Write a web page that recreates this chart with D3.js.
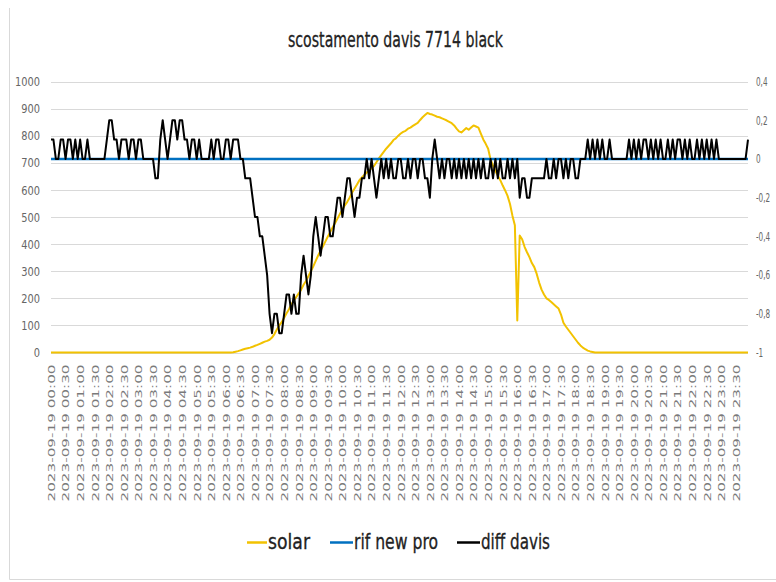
<!DOCTYPE html>
<html>
<head>
<meta charset="utf-8">
<script src="https://cdn.jsdelivr.net/npm/d3@7"></script>
<style>
  html, body { margin: 0; padding: 0; background: #fff; }
  svg { display: block; }
</style>
</head>
<body>
<svg id="chart" width="776" height="582"></svg>
<script>
// ---- Data (5-minute samples, 2023-09-19) ----
const title = 'scostamento davis 7714 black';

// solar (left axis)
const solar = [
  0,0,0,0,0,0,0,0,0,0,0,0,0,0,0,0,0,0,0,0,0,0,0,0,0,
  0,0,0,0,0,0,0,0,0,0,0,0,0,0,0,0,0,0,0,0,0,0,0,0,0,
  0,0,0,0,0,0,0,0,0,0,0,0,0,0,0,0,0,0,0,0,0,0,0,0,0,
  1,3,5,8,11,14,16,18,21,25,28,32,36,40,43,47,55,68,85,100,112,128,145,160,178,
  192,205,218,232,250,264,282,300,318,338,358,376,392,410,428,445,462,478,495,512,528,543,556,572,590,
  605,620,636,646,655,664,672,680,688,702,716,728,740,752,762,772,784,790,800,808,814,818,826,830,836,
  842,847,858,868,876,884,880,878,874,870,868,864,860,856,851,846,838,826,816,812,820,828,822,830,838,
  834,830,808,786,770,752,712,690,670,652,636,616,598,578,548,505,470,118,432,418,390,370,352,330,315,
  290,258,232,214,200,194,186,178,170,162,140,110,96,84,72,60,48,36,26,18,12,7,4,2,
  0,0,0,0,0,0,0,0,0,0,0,0,0,0,0,0,0,0,0,0,0,0,0,0,0,0,0,0,0,0,0,0,
  0,0,0,0,0,0,0,0,0,0,0,0,0,0,0,0,0,0,0,0,0,0,0,0,0,0,0,0,0,0,0,0
];

// rif new pro (right axis)
const rifNewPro = [
  0,0,0,0,0,0,0,0,0,0,0,0,0,0,0,0,0,0,0,0,0,0,0,0,
  0,0,0,0,0,0,0,0,0,0,0,0,0,0,0,0,0,0,0,0,0,0,0,0,
  0,0,0,0,0,0,0,0,0,0,0,0,0,0,0,0,0,0,0,0,0,0,0,0,
  0,0,0,0,0,0,0,0,0,0,0,0,0,0,0,0,0,0,0,0,0,0,0,0,
  0,0,0,0,0,0,0,0,0,0,0,0,0,0,0,0,0,0,0,0,0,0,0,0,
  0,0,0,0,0,0,0,0,0,0,0,0,0,0,0,0,0,0,0,0,0,0,0,0,
  0,0,0,0,0,0,0,0,0,0,0,0,0,0,0,0,0,0,0,0,0,0,0,0,
  0,0,0,0,0,0,0,0,0,0,0,0,0,0,0,0,0,0,0,0,0,0,0,0,
  0,0,0,0,0,0,0,0,0,0,0,0,0,0,0,0,0,0,0,0,0,0,0,0,
  0,0,0,0,0,0,0,0,0,0,0,0,0,0,0,0,0,0,0,0,0,0,0,0,
  0,0,0,0,0,0,0,0,0,0,0,0,0,0,0,0,0,0,0,0,0,0,0,0,
  0,0,0,0,0,0,0,0,0,0,0,0,0,0,0,0,0,0,0,0,0,0,0,0
];

// diff davis (right axis)
const diffDavis = [
  0.1,0.1,0,0,0.1,0.1,0,0.1,0.1,0,0.1,0,0.1,0,0,0.1,0,0,0,0,0,0,0,0.1,
  0.2,0.2,0.1,0.1,0,0.1,0.1,0.1,0,0.1,0.1,0,0.1,0.1,0,0,0,0,0,-0.1,-0.1,0.1,0.2,0.1,
  0,0.1,0.2,0.2,0.1,0.2,0.2,0.1,0.1,0,0.1,0.1,0,0.1,0,0,0,0,0.1,0,0.1,0.1,0,0,
  0.1,0.1,0,0.1,0.1,0.1,0,0,-0.1,-0.1,-0.1,-0.2,-0.3,-0.3,-0.4,-0.4,-0.5,-0.6,-0.8,-0.9,-0.8,-0.8,-0.9,-0.9,
  -0.8,-0.7,-0.7,-0.8,-0.7,-0.8,-0.8,-0.6,-0.5,-0.6,-0.7,-0.6,-0.4,-0.3,-0.4,-0.5,-0.4,-0.3,-0.3,-0.4,-0.4,-0.3,-0.2,-0.2,
  -0.3,-0.2,-0.1,-0.1,-0.2,-0.3,-0.2,-0.2,-0.1,-0.1,0,-0.1,0,-0.1,-0.2,-0.1,0,-0.1,0,-0.1,0,-0.1,-0.1,0,
  0,-0.1,-0.1,0,-0.1,0,0,-0.1,0,0,-0.1,-0.1,-0.2,0,0.1,0,-0.1,0,-0.1,0,0,-0.1,0,-0.1,
  0,-0.1,0,-0.1,0,-0.1,0,-0.1,0,-0.1,0,-0.1,-0.1,0,-0.1,0,-0.1,0,-0.1,-0.1,0,-0.1,0,-0.1,
  0,-0.2,-0.1,-0.1,-0.2,-0.2,-0.1,-0.1,-0.1,-0.1,-0.1,-0.1,0,-0.1,-0.1,0,-0.1,0,0,-0.1,0,-0.1,0,0,
  -0.1,-0.1,0,0,0,0.1,0,0.1,0,0.1,0,0.1,0,0,0.1,0,0,0,0,0,0,0,0.1,0,
  0.1,0,0.1,0,0.1,0.1,0,0.1,0,0.1,0,0.1,0,0,0.1,0,0.1,0,0.1,0.1,0,0.1,0,0.1,
  0,0,0.1,0,0.1,0,0.1,0,0.1,0,0.1,0,0,0,0,0,0,0,0,0,0,0,0,0.1
];

// category labels, one every 6 samples (30 min)
const xLabels = [
  '2023-09-19 00:00','2023-09-19 00:30','2023-09-19 01:00','2023-09-19 01:30',
  '2023-09-19 02:00','2023-09-19 02:30','2023-09-19 03:00','2023-09-19 03:30',
  '2023-09-19 04:00','2023-09-19 04:30','2023-09-19 05:00','2023-09-19 05:30',
  '2023-09-19 06:00','2023-09-19 06:30','2023-09-19 07:00','2023-09-19 07:30',
  '2023-09-19 08:00','2023-09-19 08:30','2023-09-19 09:00','2023-09-19 09:30',
  '2023-09-19 10:00','2023-09-19 10:30','2023-09-19 11:00','2023-09-19 11:30',
  '2023-09-19 12:00','2023-09-19 12:30','2023-09-19 13:00','2023-09-19 13:30',
  '2023-09-19 14:00','2023-09-19 14:30','2023-09-19 15:00','2023-09-19 15:30',
  '2023-09-19 16:00','2023-09-19 16:30','2023-09-19 17:00','2023-09-19 17:30',
  '2023-09-19 18:00','2023-09-19 18:30','2023-09-19 19:00','2023-09-19 19:30',
  '2023-09-19 20:00','2023-09-19 20:30','2023-09-19 21:00','2023-09-19 21:30',
  '2023-09-19 22:00','2023-09-19 22:30','2023-09-19 23:00','2023-09-19 23:30'
];
const labelStep = 6;

const leftTicks = [0, 100, 200, 300, 400, 500, 600, 700, 800, 900, 1000];
const rightTicks = [-1, -0.8, -0.6, -0.4, -0.2, 0, 0.2, 0.4];
const rightTickLabels = ['-1', '-0,8', '-0,6', '-0,4', '-0,2', '0', '0,2', '0,4'];

const seriesNames = ['solar', 'rif new pro', 'diff davis'];
const seriesColors = ['#F2C200', '#0070C0', '#000000'];

// ---- Layout ----
const svg = d3.select('#chart');
const FONT = '"Liberation Sans Narrow", "DejaVu Sans Condensed", "Liberation Sans", sans-serif';
const plot = {left: 51, right: 748, top: 81.5, bottom: 352.5};

// squeeze text horizontally (the capture is condensed)
function squeeze(sel, factor) {
  sel.each(function() {
    const w = this.getComputedTextLength();
    d3.select(this).attr('textLength', w * factor).attr('lengthAdjust', 'spacingAndGlyphs');
  });
}

// ---- Scales ----
const x = d3.scaleLinear().domain([0, solar.length - 1]).range([plot.left, plot.right]);
const yLeft = d3.scaleLinear().domain([0, 1000]).range([plot.bottom, plot.top]);
const yRight = d3.scaleLinear().domain([-1, 0.4]).range([plot.bottom, plot.top]);

// chart frame (left / bottom edges visible in the capture)
svg.append('line')
  .attr('x1', 9.5).attr('x2', 9.5).attr('y1', 8).attr('y2', 579.5)
  .attr('stroke', '#d9d9d9');
svg.append('line')
  .attr('x1', 9.5).attr('x2', 776).attr('y1', 579.5).attr('y2', 579.5)
  .attr('stroke', '#d9d9d9');

// title
svg.append('text')
  .attr('x', 288).attr('y', 47)
  .attr('textLength', 215).attr('lengthAdjust', 'spacingAndGlyphs')
  .attr('font-family', FONT).attr('font-size', 21)
  .attr('fill', '#222')
  .attr('stroke', '#222').attr('stroke-width', 0.3)
  .text(title);

// gridlines
svg.append('g').selectAll('line')
  .data(leftTicks)
  .join('line')
  .attr('x1', plot.left).attr('x2', plot.right)
  .attr('y1', d => Math.round(yLeft(d)) + 0.5)
  .attr('y2', d => Math.round(yLeft(d)) + 0.5)
  .attr('stroke', '#d9d9d9')
  .attr('stroke-width', 1);

// left axis
const gLeft = svg.append('g')
  .attr('transform', `translate(${plot.left},0)`)
  .call(d3.axisLeft(yLeft).tickValues(leftTicks).tickSize(0).tickPadding(11)
    .tickFormat(d3.format('d')));
gLeft.attr('font-family', FONT).attr('font-size', 13);
gLeft.select('.domain').remove();
gLeft.selectAll('text').attr('fill', '#666');

// width factor so that "1000" is ~25px wide like the reference
const refW = gLeft.selectAll('text').filter(d => d === 1000).node().getComputedTextLength();
const axisFactor = 25 / refW;
squeeze(gLeft.selectAll('text'), axisFactor);

// right axis
const gRight = svg.append('g')
  .attr('transform', `translate(${plot.right},0)`)
  .call(d3.axisRight(yRight).tickValues(rightTicks).tickSize(0).tickPadding(8)
    .tickFormat((d, i) => rightTickLabels[i]));
gRight.attr('font-family', FONT).attr('font-size', 12);
gRight.select('.domain').remove();
gRight.selectAll('text').attr('fill', '#666');
squeeze(gRight.selectAll('text'), axisFactor * 0.8);

// category axis, rotated labels
const gX = svg.append('g')
  .attr('transform', `translate(0,${plot.bottom})`)
  .call(d3.axisBottom(x)
    .tickValues(xLabels.map((d, i) => i * labelStep))
    .tickSize(0)
    .tickFormat((d, i) => xLabels[i]));
gX.attr('font-family', FONT).attr('font-size', 9.5);
gX.select('.domain').remove();
gX.selectAll('text')
  .attr('fill', '#7a7a7a')
  .attr('transform', 'rotate(-90)')
  .attr('x', -12).attr('y', 0).attr('dy', '0.35em')
  .attr('text-anchor', 'end')
  .attr('textLength', 137).attr('lengthAdjust', 'spacingAndGlyphs');

// ---- Lines ----
const lineLeft = d3.line().x((d, i) => x(i)).y(d => yLeft(d));
const lineRight = d3.line().x((d, i) => x(i)).y(d => yRight(d));

svg.append('path').datum(solar)
  .attr('d', lineLeft)
  .attr('fill', 'none')
  .attr('stroke', seriesColors[0])
  .attr('stroke-width', 2)
  .attr('stroke-linejoin', 'round');

svg.append('path').datum(rifNewPro)
  .attr('d', lineRight)
  .attr('fill', 'none')
  .attr('stroke', seriesColors[1])
  .attr('stroke-width', 2.5);

svg.append('path').datum(diffDavis)
  .attr('d', lineRight)
  .attr('fill', 'none')
  .attr('stroke', seriesColors[2])
  .attr('stroke-width', 2)
  .attr('stroke-linejoin', 'round');

// ---- Legend ----
const legendItems = [
  {sx: 247, sw: 20, tx: 268, tw: 42},
  {sx: 330, sw: 23, tx: 354, tw: 84},
  {sx: 457, sw: 23, tx: 481, tw: 69}
];
const legend = svg.append('g');
legendItems.forEach((it, i) => {
  legend.append('line')
    .attr('x1', it.sx).attr('x2', it.sx + it.sw)
    .attr('y1', 542.5).attr('y2', 542.5)
    .attr('stroke', seriesColors[i])
    .attr('stroke-width', 2.5);
  legend.append('text')
    .attr('x', it.tx).attr('y', 549)
    .attr('textLength', it.tw).attr('lengthAdjust', 'spacingAndGlyphs')
    .attr('font-family', FONT).attr('font-size', 21)
    .attr('fill', '#222')
    .attr('stroke', '#222').attr('stroke-width', 0.3)
    .text(seriesNames[i]);
});
</script>
</body>
</html>
